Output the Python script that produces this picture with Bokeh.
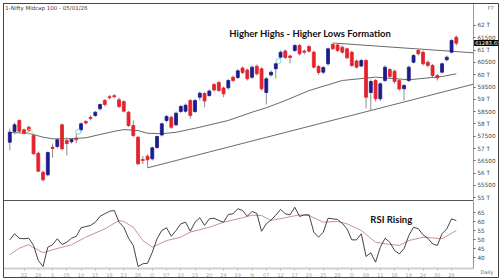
from bokeh.plotting import figure
from bokeh.layouts import column
from bokeh.models import Range1d, FixedTicker, Label, ColumnDataSource, GridBox
from bokeh.embed import file_html
from bokeh.resources import INLINE

# ---------------- data ----------------
opens = [57256, 57691, 58138, 57760, 57866, 57528, 56809, 56036, 55931, 57053,
         57081, 57963, 57325, 57272, 57419, 57760, 58097, 58268, 58341, 58614,
         58951, 59105, 59146, 58980, 58910, 58475, 57935, 57459, 56553, 56687,
         56581, 57040, 57549, 58138, 58272, 57963, 58504, 58516, 58951, 58504,
         59085, 59236, 59154, 59601, 59683, 59459, 59467, 59898, 59886, 60272,
         60191, 59898, 60345, 60240, 59276, 59988, 60240, 60711, 60963, 60760,
         60984, 61187, 60963, 61146, 60914, 60333, 60101, 60443, 61227, 61207,
         61118, 61053, 60914, 60557, 60353, 60577, 59276, 59764, 59020, 59764,
         60211, 60142, 59764, 59427, 59764, 60508, 60984, 60914, 60508, 60374,
         59967, 60101, 60606, 60914, 61524]
highs = [57813, 58057, 58191, 57813, 57935, 57610, 56878, 56106, 56878, 57203,
         57406, 58016, 57447, 57427, 57598, 58057, 58158, 58341, 58524, 58829,
         59012, 59175, 59215, 59073, 58951, 58524, 58138, 57508, 56695, 56756,
         57081, 57528, 58057, 58362, 58341, 58504, 58768, 58829, 59012, 59012,
         59317, 59296, 59398, 59662, 59744, 59520, 59825, 59967, 60219, 60333,
         60252, 60374, 60414, 60305, 59906, 60170, 60496, 60984, 61024, 60821,
         61248, 61248, 61024, 61207, 60984, 60394, 60353, 61105, 61288, 61268,
         61187, 61105, 60984, 60618, 60638, 60638, 59805, 59825, 59683, 60374,
         60272, 60211, 59825, 59622, 60374, 60841, 61045, 60984, 60577, 60435,
         60028, 60496, 60780, 61451, 61593]
lows = [56919, 57569, 57650, 57569, 57671, 56756, 56045, 55658, 55862, 56634,
        57000, 56919, 56715, 57203, 57215, 57691, 57975, 58138, 58280, 58545,
        58707, 58992, 59053, 58646, 58463, 57874, 57459, 56329, 56370, 56215,
        56512, 56980, 57488, 58057, 57793, 57914, 58443, 58463, 58207, 58443,
        58951, 58679, 59093, 59317, 59296, 59085, 59398, 59703, 59825, 60028,
        59764, 59825, 59967, 59357, 58788, 59927, 59845, 60658, 60638, 60455,
        60923, 60780, 60821, 60902, 60252, 59988, 60028, 60374, 61004, 60923,
        60862, 60638, 60313, 60252, 60292, 58626, 58545, 58910, 58931, 59703,
        59845, 59642, 59357, 58951, 59703, 60455, 60780, 60374, 60292, 59886,
        59764, 60049, 60536, 60862, 61187]
closes = [57662, 57963, 57703, 57622, 57732, 56784, 56077, 55727, 56837, 57000,
          57354, 56988, 57203, 57366, 57354, 58004, 58036, 58219, 58475, 58788,
          58788, 59065, 59105, 58707, 58516, 57935, 57528, 56378, 56512, 56541,
          57028, 57488, 58004, 58301, 57866, 58435, 58707, 58760, 58341, 58951,
          59248, 58931, 59337, 59378, 59357, 59223, 59764, 59764, 60158, 60089,
          59833, 60305, 60036, 59427, 59833, 60101, 60443, 60914, 60699, 60699,
          61187, 60849, 60914, 60955, 60305, 60089, 60292, 61053, 61053, 60984,
          60914, 60687, 60374, 60305, 60577, 59085, 59723, 59020, 59630, 60305,
          59927, 59723, 59418, 59561, 60305, 60780, 60849, 60443, 60374, 59967,
          59874, 60443, 60711, 61390, 61280]

ma_idx = [0, 4, 7, 9, 12, 14, 16, 19, 22, 24, 27, 29, 32, 35, 40, 46, 51, 54, 58, 63, 70, 77, 84, 91, 94]
ma_val = [57650, 57620, 57460, 57395, 57395, 57415, 57435, 57570, 57700, 57770, 57730, 57620, 57600,
          57660, 57865, 58140, 58475, 58655, 58950, 59355, 59765, 59900, 59795, 59925, 60035]

support_idx = [29, 97.6]
support_val = [56215, 59615]
resist_idx = [68, 97.6]
resist_val = [61288, 60890]

marker_idx = [14.4, 56.6]
marker_val = [57679, 60553]
marker2_idx = [4.2]
marker2_val = [57679]

rsi = [49.8, 53.2, 50.7, 50.4, 50.7, 46.7, 38.3, 35.0, 45.7, 47.1,
       50.4, 47.2, 48.5, 50.7, 51.8, 56.5, 57.2, 57.8, 59.6, 62.9,
       64.3, 65.7, 66.1, 59.6, 56.8, 50.7, 46.7, 35.0, 36.5, 36.8,
       42.9, 50.4, 55.0, 56.5, 51.8, 55.0, 58.7, 59.6, 54.6, 59.6,
       62.1, 57.8, 61.5, 61.8, 60.6, 59.6, 63.9, 64.3, 67.1, 66.1,
       62.9, 65.6, 64.5, 54.6, 58.7, 60.9, 63.5, 66.7, 64.3, 63.7,
       67.9, 62.8, 63.7, 63.7, 54.1, 51.3, 54.1, 61.8, 61.5, 61.1,
       59.0, 55.9, 49.8, 49.8, 53.2, 40.6, 42.6, 37.4, 45.7, 50.7,
       48.5, 43.9, 42.0, 45.0, 52.2, 56.8, 56.0, 52.6, 50.7, 47.6,
       46.7, 53.2, 55.9, 61.5, 60.5]
sig_idx = [0, 2, 4, 7, 9, 13, 16, 20, 23, 24, 26, 28, 30, 33, 36, 38, 42, 45, 49, 51,
           53, 55, 58, 61, 63, 66, 69, 71, 74, 77, 79, 82, 84, 87, 91, 94]
sig_val = [41.5, 45.2, 47.1, 42.6, 44.3, 47.1, 51.3, 55.9, 60.6, 60.0, 56.8, 49.4, 45.7, 49.4,
           51.3, 54.1, 56.8, 59.6, 62.1, 63.5, 63.3, 60.6, 62.1, 63.7, 63.3, 59.6, 60.0, 58.7,
           55.0, 48.5, 47.6, 46.7, 49.4, 51.3, 50.4, 55.0]

price_ticks = [55000, 55500, 56000, 56500, 57000, 57500, 58000, 58500, 59000, 59500,
               60000, 60500, 61000, 61500, 62000]
price_tick_labels = ["55 T", "55500", "56 T", "56500", "57 T", "57500", "58 T", "58500", "59 T",
                     "59500", "60 T", "60500", "61 T", "61500", "62 T"]
rsi_ticks = [40, 45, 50, 55, 60, 65]
date_tick_idx = list(range(3, 94, 3))
date_labels = ["22", "28", "S", "05", "10", "15", "18", "23", "26", "O", "07", "10", "15", "20",
               "24", "29", "N", "07", "12", "17", "20", "25", "28", "D", "08", "11", "16", "19",
               "24", "30", "26"]

last_price = 61289
last_price_text = "61283.65"

# ---------------- styling ----------------
BLUE = "#1c1c8c"
RED = "#e3232c"
WICK = "#8c8c8c"
AXF = "DejaVu Sans"

idx = list(range(len(opens)))
src = ColumnDataSource(dict(
    x=idx,
    top=[max(o, c) for o, c in zip(opens, closes)],
    bottom=[min(o, c) for o, c in zip(opens, closes)],
    high=highs, low=lows,
    color=[BLUE if c > o else RED for o, c in zip(opens, closes)],
))

xr = Range1d(-1.326, 97.62)

# ---------------- price panel ----------------
p1 = figure(width=500, height=201, x_range=xr, y_range=Range1d(54846, 62894),
            output_backend="svg", toolbar_location=None, title=None,
            x_axis_location=None, y_axis_location="right",
            min_border_left=3, min_border_right=27, min_border_top=3, min_border_bottom=0)
p1.grid.visible = False
p1.outline_line_color = "#555555"

ya = p1.yaxis[0]
ya.ticker = FixedTicker(ticks=price_ticks)
ya.major_label_overrides = {t: l for t, l in zip(price_ticks, price_tick_labels)}
ya.major_label_text_font = AXF
ya.major_label_text_font_size = "5.7px"
ya.major_label_text_color = "#444444"
ya.major_tick_out = 2
ya.major_tick_in = 0
ya.minor_tick_out = 0
ya.minor_tick_in = 0
ya.major_label_standoff = 2
ya.axis_line_color = "#999999"
ya.major_tick_line_color = "#666666"

p1.line(ma_idx, ma_val, line_color="#6a6a6a", line_width=1)
p1.line(support_idx, support_val, line_color="#6a6a6a", line_width=1)
p1.line(resist_idx, resist_val, line_color="#6a6a6a", line_width=1)

p1.segment(x0="x", y0="low", x1="x", y1="high", source=src, line_color=WICK, line_width=1)
p1.vbar(x="x", width=0.62, top="top", bottom="bottom", source=src,
        fill_color="color", line_color="color", line_width=0.8)

p1.scatter(marker_idx, marker_val, marker="circle", size=5, fill_color=None,
           line_color="#7fd3e6", line_width=1)
p1.scatter(marker2_idx, marker2_val, marker="circle", size=5, fill_color=None,
           line_color="#e6d27f", line_width=1)

p1.add_layout(Label(x=-0.95, y=62711, text="1-Nifty Midcap 100 - 05/01/26",
                    text_font=AXF, text_font_size="5.5px", text_color="#444444",
                    text_baseline="middle"))
p1.add_layout(Label(x=46.2, y=61660, text="Higher Highs - Higher Lows Formation",
                    text_font="Lato", text_font_style="bold", text_font_size="9.5px",
                    text_color="#111111", text_baseline="alphabetic"))

# ---------------- RSI panel ----------------
p2 = figure(width=500, height=79, x_range=xr, y_range=Range1d(33.89, 71.11),
            output_backend="svg", toolbar_location=None, title=None,
            x_axis_location="below", y_axis_location="right",
            min_border_left=3, min_border_right=27, min_border_top=0, min_border_bottom=12)
p2.grid.visible = False
p2.outline_line_color = None

ra = p2.yaxis[0]
ra.ticker = FixedTicker(ticks=rsi_ticks)
ra.major_label_text_font = AXF
ra.major_label_text_font_size = "5.7px"
ra.major_label_text_color = "#444444"
ra.major_tick_out = 2
ra.major_tick_in = 0
ra.minor_tick_out = 0
ra.minor_tick_in = 0
ra.major_label_standoff = 2
ra.axis_line_color = "#999999"
ra.major_tick_line_color = "#666666"

xa = p2.xaxis[0]
xa.ticker = FixedTicker(ticks=date_tick_idx)
xa.major_label_overrides = {t: l for t, l in zip(date_tick_idx, date_labels)}
xa.major_label_text_font = AXF
xa.major_label_text_font_size = "5px"
xa.major_label_text_color = "#a8a8a8"
xa.major_tick_out = 2
xa.major_tick_in = 0
xa.minor_tick_out = 0
xa.minor_tick_in = 0
xa.major_label_standoff = 1
xa.axis_line_color = "#d0d0d0"
xa.axis_line_width = 2
xa.major_tick_line_color = "#bbbbbb"

p2.line(sig_idx, sig_val, line_color="#c99393", line_width=1)
p2.line(idx, rsi, line_color="#2e2e2e", line_width=0.9)

p2.add_layout(Label(x=75.9, y=61.1, text="RSI Rising", text_font="Lato",
                    text_font_style="bold", text_font_size="9.5px", text_color="#111111",
                    text_baseline="alphabetic"))

stack = column(p1, p2, spacing=0)

# ---------------- transparent overlay: outer frame and margin texts ----------------
ov = figure(width=500, height=280, x_range=Range1d(-1.326, 102.88),
            y_range=Range1d(51756, 62894), output_backend="svg", toolbar_location=None,
            title=None, x_axis_location=None, y_axis_location=None,
            min_border_left=3, min_border_right=2, min_border_top=3, min_border_bottom=3)
ov.grid.visible = False
ov.background_fill_color = None
ov.border_fill_color = None
ov.outline_line_color = "#444444"
ov.add_layout(Label(x=97.75, y=last_price, text=last_price_text, text_font=AXF,
                    text_font_size="5.3px", text_color="white", text_baseline="middle",
                    background_fill_color="black", padding=1))
ov.add_layout(Label(x=100.6, y=62711, text="F7", text_font=AXF, text_font_size="5px",
                    text_color="#777777", text_baseline="middle"))
ov.add_layout(Label(x=99.1, y=51960, text="Daily", text_font=AXF, text_font_size="5px",
                    text_color="#666666", text_baseline="middle"))

grid = GridBox(children=[(stack, 0, 0), (ov, 0, 0)])

open("out.html", "w").write(file_html(grid, INLINE))
